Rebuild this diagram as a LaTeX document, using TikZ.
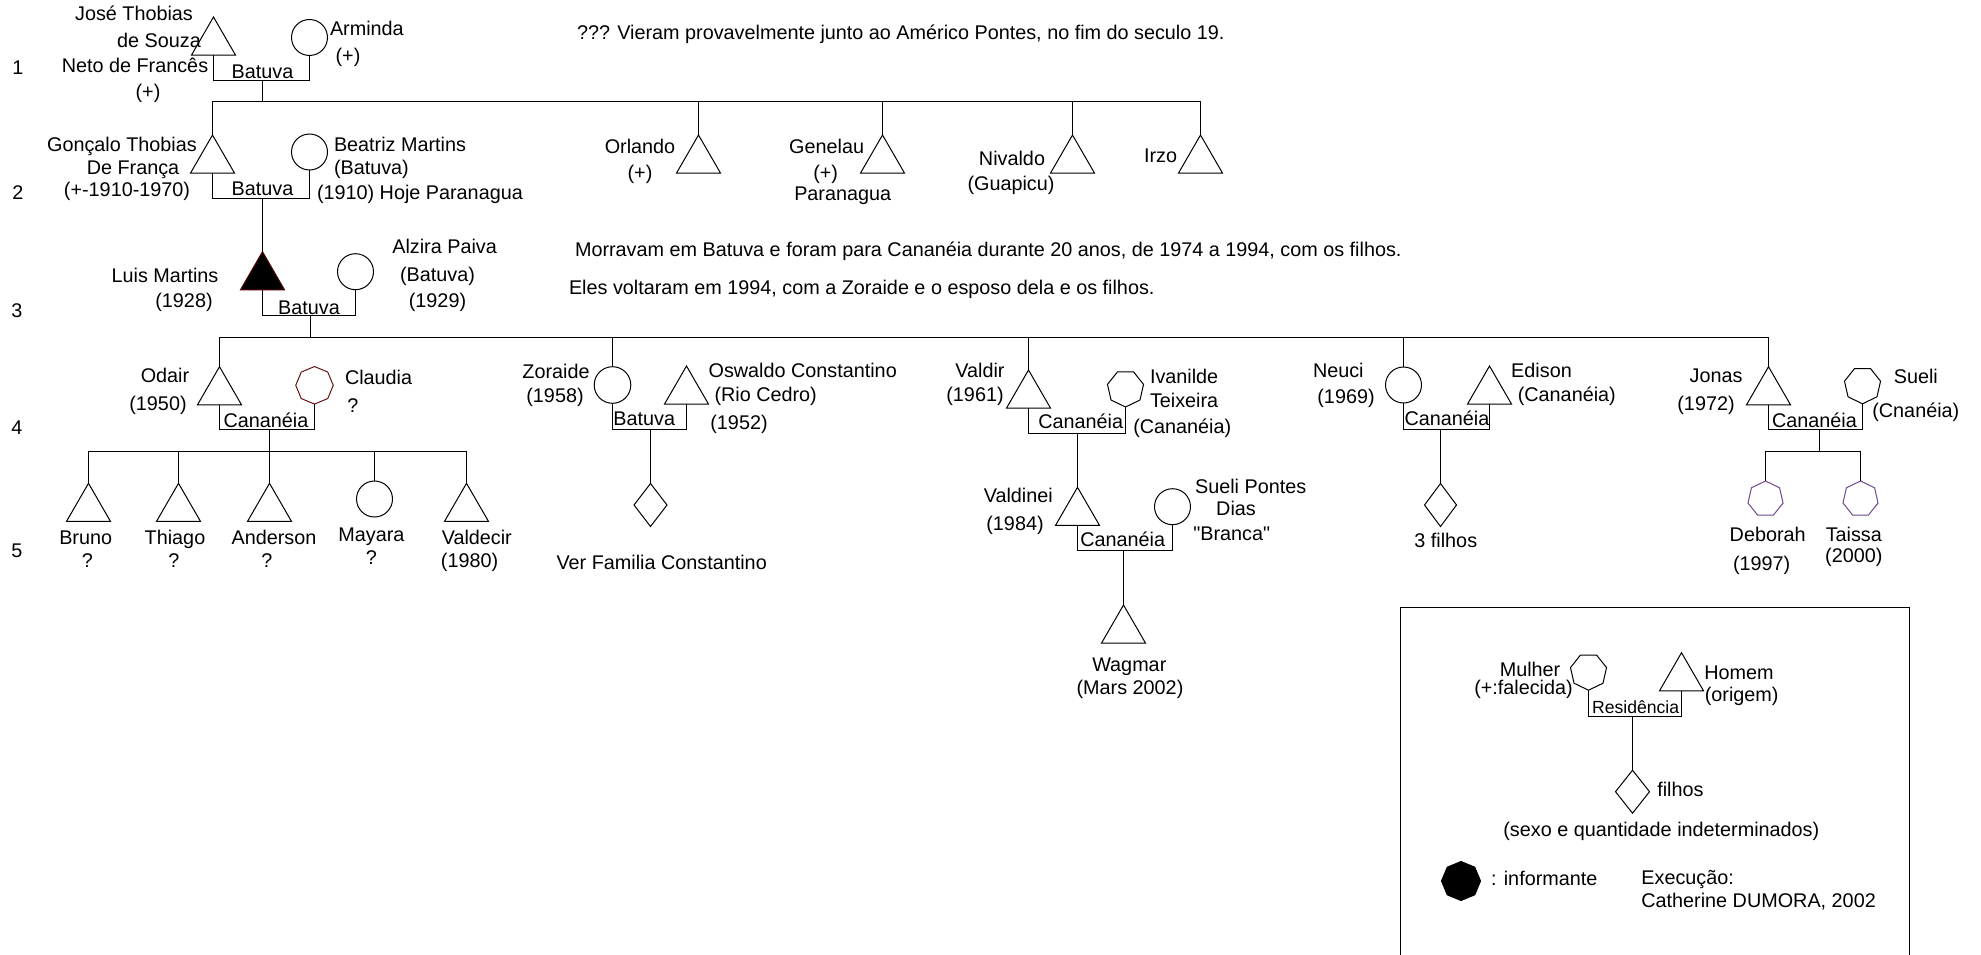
\documentclass[tikz,border=0pt]{standalone}
\usepackage{fontspec}
\setmainfont{Liberation Sans}
\newfontfamily\plainquote{Liberation Sans}
\usetikzlibrary{shapes.geometric}
\newcommand\figfont{\fontsize{19.8}{22}\selectfont}
\newcommand\smallfigfont{\fontsize{17.6}{20}\selectfont}
\definecolor{maroonline}{RGB}{100,20,20}
\definecolor{purpleline}{RGB}{112,72,140}
\definecolor{darkedge}{RGB}{80,0,0}
\begin{document}
\begin{tikzpicture}[x=1pt,y=-1pt,line width=1pt,
  lab/.style={inner sep=0pt,outer sep=0pt,font=\figfont,text height=14.2pt,text depth=0pt},
  male/.style={draw,regular polygon,regular polygon sides=3,minimum size=50.8pt,inner sep=0pt,outer sep=0pt,anchor=north},
  female/.style={draw,circle,minimum size=36pt,inner sep=0pt,outer sep=0pt},
  heptdown/.style={draw,regular polygon,regular polygon sides=7,shape border rotate=180,minimum size=37pt,inner sep=0pt,outer sep=0pt},
  heptup/.style={draw,regular polygon,regular polygon sides=7,minimum size=36pt,inner sep=0pt,outer sep=0pt},
  octo/.style={draw,regular polygon,regular polygon sides=8,shape border rotate=22.5,minimum size=37.5pt,inner sep=0pt,outer sep=0pt},
  kids/.style={draw,diamond,minimum width=33pt,minimum height=43pt,inner sep=0pt,outer sep=0pt}]
\fill[white] (0,0) rectangle (1981,955);
\useasboundingbox (0,0) rectangle (1981,955);

% generation numbers
\node[lab] (g1) at (18,67) {1};
\node[lab] (g2) at (18,192) {2};
\node[lab] (g3) at (17,310) {3};
\node[lab] (g4) at (17,427) {4};
\node[lab] (g5) at (17,550) {5};

% notes
\node[lab,anchor=west] (note1) at (577,32) {??? Vieram provavelmente junto ao Américo Pontes, no fim do seculo 19.};
\node[lab,anchor=west] (note2) at (575,249) {Morravam em Batuva e foram para Cananéia durante 20 anos, de 1974 a 1994, com os filhos.};
\node[lab,anchor=west] (note3) at (569,287) {Eles voltaram em 1994, com a Zoraide e o esposo dela e os filhos.};

% ---------- generation 1
\node[male] (jose) at (213.5,17) {};
\node[female] (arminda) at (309.5,37.5) {};
\coordinate (m1) at (262.5,80.5);
\coordinate (s1) at (262.5,101.5);
\draw (jose.south) |- (m1) -| (arminda.south);
\draw (m1) -- (s1);
\node[lab] (b1) at (262.5,71) {Batuva};
\node[lab] (jose1) at (134,13) {José Thobias};
\node[lab] (jose2) at (159,40) {de Souza};
\node[lab] (jose3) at (135,65) {Neto de Francês};
\node[lab] (jose4) at (148,91) {(+)};
\node[lab,anchor=west] (arm1) at (330,28) {Arminda};
\node[lab] (arm2) at (348,55) {(+)};

% ---------- generation 2
\node[male] (gonc) at (212.5,135) {};
\node[female] (beatriz) at (309.5,152) {};
\node[male] (orlando) at (698.5,135) {};
\node[male] (genelau) at (882.5,135) {};
\node[male] (nivaldo) at (1072.5,135) {};
\node[male] (irzo) at (1200.5,135) {};
\draw (gonc.north) |- (irzo.north |- s1) -- (irzo.north);
\draw (orlando.north) -- (orlando.north |- s1);
\draw (genelau.north) -- (genelau.north |- s1);
\draw (nivaldo.north) -- (nivaldo.north |- s1);
\coordinate (m2) at (262.5,198.5);
\draw (gonc.south) |- (m2) -| (beatriz.south);
\node[lab] (b2) at (262.5,188) {Batuva};
\node[lab] (gon1) at (122,144) {Gonçalo Thobias};
\node[lab] (gon2) at (133,167) {De França};
\node[lab] (gon3) at (127,189) {(+-1910-1970)};
\node[lab,anchor=west] (bea1) at (334,144) {Beatriz Martins};
\node[lab,anchor=west] (bea2) at (334,167) {(Batuva)};
\node[lab,anchor=west] (bea3) at (317,192) {(1910) Hoje Paranagua};
\node[lab] (orl1) at (640,146) {Orlando};
\node[lab] (orl2) at (640,172) {(+)};
\node[lab] (gen1) at (826.6,146) {Genelau};
\node[lab] (gen2) at (825.7,172) {(+)};
\node[lab] (gen3) at (842.7,193) {Paranagua};
\node[lab] (niv1) at (1012,158) {Nivaldo};
\node[lab] (niv2) at (1011,183) {(Guapicu)};
\node[lab] (irz1) at (1160.5,155) {Irzo};

% ---------- generation 3
\node[male,fill=black,draw=darkedge] (luis) at (262.5,251.7) {};
\node[female] (alzira) at (355.5,271.7) {};
\draw (m2) -- (luis.north);
\coordinate (m3) at (310.5,315.5);
\coordinate (s3) at (310.5,337.5);
\draw (luis.south) |- (m3) -| (alzira.south);
\draw (m3) -- (s3);
\node[lab] (b3) at (309,307.3) {Batuva};
\node[lab] (lui1) at (165,275) {Luis Martins};
\node[lab] (lui2) at (184,300) {(1928)};
\node[lab] (alz1) at (444.6,246.7) {Alzira Paiva};
\node[lab] (alz2) at (437.5,274) {(Batuva)};
\node[lab] (alz3) at (437.5,300) {(1929)};

% ---------- generation 4
\node[male] (odair) at (219.5,366.7) {};
\node[octo,draw=maroonline] (claudia) at (314.5,385.3) {};
\node[female,minimum size=36.6pt] (zoraide) at (612.5,385) {};
\node[male] (oswaldo) at (686.5,366) {};
\node[male] (valdir) at (1028.5,370) {};
\node[heptdown] (ivanilde) at (1125.5,388.5) {};
\node[female] (neuci) at (1403.5,385) {};
\node[male] (edison) at (1489.5,366) {};
\node[male] (jonas) at (1768.5,366.7) {};
\node[heptdown] (sueli) at (1862.5,385.3) {};
\draw (odair.north) |- (jonas.north |- s3) -- (jonas.north);
\draw (zoraide.north) -- (zoraide.north |- s3);
\draw (valdir.north) -- (valdir.north |- s3);
\draw (neuci.north) -- (neuci.north |- s3);

% Odair + Claudia
\coordinate (m4a) at (269.5,429.5);
\coordinate (s4a) at (269.5,451.5);
\draw (odair.south) |- (m4a) -| (claudia.south);
\draw (m4a) -- (s4a);
\node[lab] (c4a) at (266,420) {Cananéia};
\node[lab] (oda1) at (165,375.7) {Odair};
\node[lab] (oda2) at (158,403.3) {(1950)};
\node[lab] (cla1) at (378.6,377.3) {Claudia};
\node[lab] (cla2) at (353,405) {?};

% Zoraide + Oswaldo
\coordinate (m4b) at (650.5,429.5);
\draw (zoraide.south) |- (m4b) -| (oswaldo.south);
\node[kids] (dz) at (650.5,505) {};
\draw (m4b) -- (dz.north);
\node[lab] (b4b) at (644.3,418.3) {Batuva};
\node[lab] (zor1) at (556,371.7) {Zoraide};
\node[lab] (zor2) at (555,395.7) {(1958)};
\node[lab] (osw1) at (802.7,370) {Oswaldo Constantino};
\node[lab] (osw2) at (765.7,394) {(Rio Cedro)};
\node[lab] (osw3) at (739,422.7) {(1952)};
\node[lab] (ver) at (661.7,562.3) {Ver Familia Constantino};

% Valdir + Ivanilde
\coordinate (m4c) at (1077.5,433.5);
\draw (valdir.south) |- (m4c) -| (ivanilde.south);
\node[lab] (c4c) at (1080.7,421) {Cananéia};
\node[lab] (vld1) at (980,370.7) {Valdir};
\node[lab] (vld2) at (975,394.3) {(1961)};
\node[lab,anchor=west] (iva1) at (1150,376.7) {Ivanilde};
\node[lab,anchor=west] (iva2) at (1150,400) {Teixeira};
\node[lab,anchor=west] (iva3) at (1133.3,426.7) {(Cananéia)};
\node[male] (valdinei) at (1077.5,487.3) {};
\draw (m4c) -- (valdinei.north);
\node[female] (suelip) at (1172.5,506.7) {};
\coordinate (m5) at (1123.5,550.5);
\draw (valdinei.south) |- (m5) -| (suelip.south);
\node[lab] (c5) at (1122.7,539.3) {Cananéia};
\node[male] (wagmar) at (1123.5,605) {};
\draw (m5) -- (wagmar.north);
\node[lab] (vdn1) at (1018.3,495) {Valdinei};
\node[lab] (vdn2) at (1015,523.3) {(1984)};
\node[lab] (sup1) at (1250.7,486.7) {Sueli Pontes};
\node[lab] (sup2) at (1236,508.3) {Dias};
\node[lab,font=\figfont\plainquote] (sup3) at (1231.7,533.3) {"Branca"};
\node[lab] (wag1) at (1129.3,664.3) {Wagmar};
\node[lab] (wag2) at (1130,687.7) {(Mars 2002)};

% Neuci + Edison
\coordinate (m4d) at (1440.5,429.5);
\draw (neuci.south) |- (m4d) -| (edison.south);
\node[kids,minimum width=32pt] (dn) at (1440.5,505) {};
\draw (m4d) -- (dn.north);
\node[lab] (c4d) at (1447,418.3) {Cananéia};
\node[lab] (neu1) at (1338.3,370) {Neuci};
\node[lab] (neu2) at (1346,396.7) {(1969)};
\node[lab] (edi1) at (1541.5,370.7) {Edison};
\node[lab] (edi2) at (1566.8,394.3) {(Cananéia)};
\node[lab] (tres) at (1445.8,540) {3 filhos};

% Jonas + Sueli
\coordinate (m4e) at (1819.5,429.5);
\coordinate (s4e) at (1819.5,451.5);
\draw (jonas.south) |- (m4e) -| (sueli.south);
\draw (m4e) -- (s4e);
\node[lab] (c4e) at (1814.4,420.7) {Cananéia};
\node[heptup,draw=purpleline] (deborah) at (1765.5,499) {};
\node[heptup,draw=purpleline] (taissa) at (1860.5,499) {};
\draw (deborah.north) |- (taissa.north |- s4e) -- (taissa.north);
\node[lab] (jon1) at (1716,375.7) {Jonas};
\node[lab] (jon2) at (1706,403.3) {(1972)};
\node[lab] (sue1) at (1915.8,376.7) {Sueli};
\node[lab] (sue2) at (1915.8,410) {(Cnanéia)};
\node[lab] (deb1) at (1767.7,534) {Deborah};
\node[lab] (deb2) at (1761.6,563.3) {(1997)};
\node[lab] (tai1) at (1853.8,534) {Taissa};
\node[lab] (tai2) at (1853.8,555.7) {(2000)};

% ---------- generation 5 (Odair's children)
\node[male] (bruno) at (88.5,483.3) {};
\node[male] (thiago) at (178.5,483.3) {};
\node[male] (anderson) at (269.5,483.3) {};
\node[female] (mayara) at (374.5,499) {};
\node[male] (valdecir) at (466.5,483.3) {};
\draw (bruno.north) |- (valdecir.north |- s4a) -- (valdecir.north);
\draw (thiago.north) -- (thiago.north |- s4a);
\draw (anderson.north) -- (anderson.north |- s4a);
\draw (mayara.north) -- (mayara.north |- s4a);
\node[lab] (bru1) at (85.7,537.7) {Bruno};
\node[lab] (bru2) at (87.5,560) {?};
\node[lab] (thi1) at (175,537.7) {Thiago};
\node[lab] (thi2) at (174,560) {?};
\node[lab] (and1) at (274,537.7) {Anderson};
\node[lab] (and2) at (267,560) {?};
\node[lab] (may1) at (371.4,534.3) {Mayara};
\node[lab] (may2) at (371.4,557.7) {?};
\node[lab] (vdc1) at (476.8,537.7) {Valdecir};
\node[lab] (vdc2) at (469.6,560) {(1980)};

% ---------- legend
\draw (1400.5,960) -- (1400.5,607.5) -- (1909.5,607.5) -- (1909.5,960);
\node[heptdown] (mulher) at (1588.5,671.7) {};
\node[male] (homem) at (1681.5,652.7) {};
\coordinate (ml) at (1632.5,716.5);
\draw (mulher.south) |- (ml) -| (homem.south);
\node[kids,minimum width=34pt] (dl) at (1632.5,791.7) {};
\draw (ml) -- (dl.north);
\node[lab,font=\smallfigfont] (res) at (1635.6,706) {Residência};
\node[lab] (mul1) at (1530,669) {Mulher};
\node[lab] (mul2) at (1523.5,687.3) {(+:falecida)};
\node[lab] (hom1) at (1739,672.7) {Homem};
\node[lab] (hom2) at (1741.7,694) {(origem)};
\node[lab] (fil) at (1680.4,789) {filhos};
\node[lab] (sexo) at (1661.3,829.3) {(sexo e quantidade indeterminados)};
\node[octo,fill=black,minimum size=39pt] (inf) at (1461,881) {};
\node[lab,anchor=west] (inf1) at (1491,878.3) {: informante};
\node[lab,anchor=west] (exe1) at (1641.4,877.3) {Execução:};
\node[lab,anchor=west] (exe2) at (1641.4,900) {Catherine DUMORA, 2002};
\end{tikzpicture}
\end{document}
